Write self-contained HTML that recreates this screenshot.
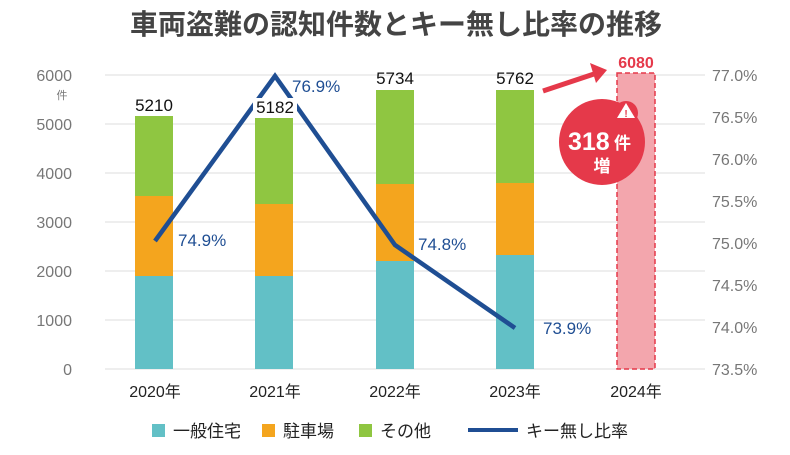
<!DOCTYPE html>
<html><head><meta charset="utf-8"><style>
body{margin:0;background:#fff;}
svg text{font-family:"Liberation Sans","Noto Sans CJK JP",sans-serif;}
</style></head><body>
<svg width="790" height="450" xmlns="http://www.w3.org/2000/svg">
<text x="396" y="34" text-anchor="middle" font-size="28" font-weight="bold" fill="#444">車両盗難の認知件数とキー無し比率の推移</text>
<g stroke="#e8e8e8" stroke-width="1.5">
<line x1="105" x2="705" y1="75" y2="75"/><line x1="105" x2="705" y1="124" y2="124"/>
<line x1="105" x2="705" y1="173" y2="173"/><line x1="105" x2="705" y1="222" y2="222"/>
<line x1="105" x2="705" y1="271" y2="271"/><line x1="105" x2="705" y1="320" y2="320"/>
<line x1="105" x2="705" y1="369" y2="369"/>
</g>
<g font-size="16" fill="#777" text-anchor="end">
<text x="72" y="81">6000</text><text x="72" y="130">5000</text><text x="72" y="179">4000</text>
<text x="72" y="228">3000</text><text x="72" y="277">2000</text><text x="72" y="326">1000</text><text x="72" y="375">0</text>
</g>
<text x="62" y="99" font-size="11" fill="#777" text-anchor="middle">件</text>
<g font-size="16" fill="#777">
<text x="712" y="81">77.0%</text><text x="712" y="123">76.5%</text><text x="712" y="165">76.0%</text>
<text x="712" y="207">75.5%</text><text x="712" y="249">75.0%</text><text x="712" y="291">74.5%</text>
<text x="712" y="333">74.0%</text><text x="712" y="375">73.5%</text>
</g>
<rect x="135" y="276" width="38" height="93" fill="#62c0c6"/><rect x="135" y="196" width="38" height="80" fill="#f4a51e"/><rect x="135" y="116" width="38" height="80" fill="#8fc641"/>
<rect x="255" y="276" width="38" height="93" fill="#62c0c6"/><rect x="255" y="204" width="38" height="72" fill="#f4a51e"/><rect x="255" y="118" width="38" height="86" fill="#8fc641"/>
<rect x="376" y="261" width="38" height="108" fill="#62c0c6"/><rect x="376" y="184" width="38" height="77" fill="#f4a51e"/><rect x="376" y="90" width="38" height="94" fill="#8fc641"/>
<rect x="496" y="255" width="38" height="114" fill="#62c0c6"/><rect x="496" y="183" width="38" height="72" fill="#f4a51e"/><rect x="496" y="90" width="38" height="93" fill="#8fc641"/>
<rect x="617" y="73" width="38" height="296" fill="#f3a6ad" stroke="#e5394a" stroke-width="1.5" stroke-dasharray="5,3"/>
<polyline points="155,241 275,76 395,245 515,328" fill="none" stroke="#1f4e93" stroke-width="4.5" stroke-linejoin="miter"/>
<g font-size="17" fill="#111" text-anchor="middle">
<text x="154" y="111">5210</text>
<rect x="253" y="98" width="44" height="20" fill="#fff"/>
<text x="275" y="113">5182</text>
<text x="395" y="84">5734</text><text x="515" y="84">5762</text>
</g>
<text x="636" y="68" font-size="16" font-weight="bold" fill="#e5394a" text-anchor="middle">6080</text>
<g font-size="17" fill="#1f4e93">
<text x="178" y="246">74.9%</text><text x="292" y="92">76.9%</text>
<text x="418" y="250">74.8%</text><text x="543" y="334">73.9%</text>
</g>
<line x1="543" y1="91" x2="597" y2="73" stroke="#e5394a" stroke-width="5"/>
<polygon points="607,70 590,63 596,83" fill="#e5394a"/>
<circle cx="602" cy="142" r="43" fill="#e5394a"/>
<circle cx="626" cy="113" r="12" fill="#e5394a"/>
<polygon points="626,103 635,118 617,118" fill="#fff"/>
<text x="626" y="117" font-size="10" font-weight="bold" fill="#e5394a" text-anchor="middle">!</text>
<text x="568" y="150" font-size="25" font-weight="bold" fill="#fff">318</text>
<text x="614" y="149" font-size="17" font-weight="bold" fill="#fff">件</text>
<text x="602" y="172" font-size="17" font-weight="bold" fill="#fff" text-anchor="middle">増</text>
<g font-size="16" fill="#222" text-anchor="middle">
<text x="155" y="397">2020年</text><text x="275" y="397">2021年</text><text x="395" y="397">2022年</text>
<text x="515" y="397">2023年</text><text x="636" y="397">2024年</text>
</g>
<rect x="152" y="424" width="13" height="13" fill="#62c0c6"/><text x="173" y="437" font-size="17" fill="#222">一般住宅</text>
<rect x="262" y="424" width="13" height="13" fill="#f4a51e"/><text x="283" y="437" font-size="17" fill="#222">駐車場</text>
<rect x="359" y="424" width="13" height="13" fill="#8fc641"/><text x="380" y="437" font-size="17" fill="#222">その他</text>
<line x1="468" y1="430" x2="518" y2="430" stroke="#1f4e93" stroke-width="4"/><text x="526" y="437" font-size="17" fill="#222">キー無し比率</text>
</svg>
</body></html>
